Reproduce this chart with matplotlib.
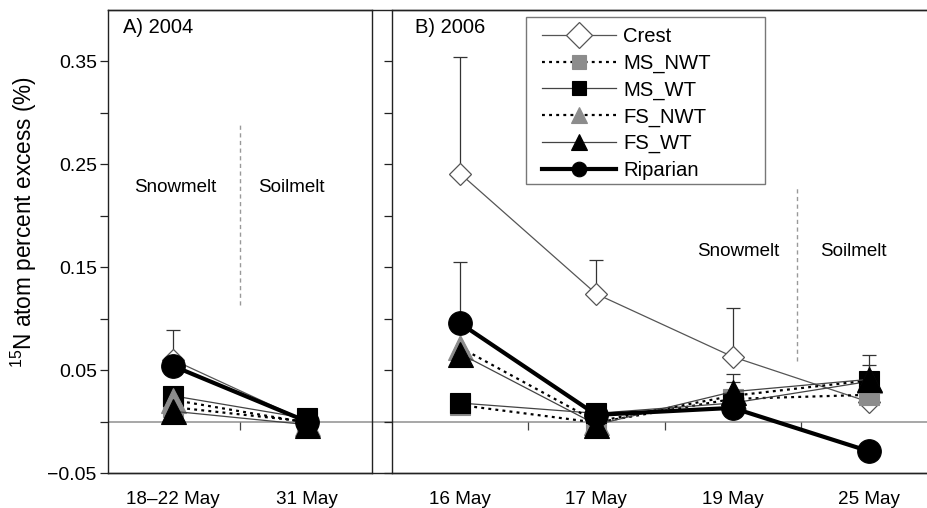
import numpy as np
import matplotlib
matplotlib.use("Agg")
import matplotlib.pyplot as plt
from matplotlib.patches import Rectangle

plt.rcParams['font.family'] = ['Liberation Sans', 'DejaVu Sans']
plt.rcParams['mathtext.fontset'] = 'custom'
plt.rcParams['mathtext.rm'] = 'Liberation Sans'

# ---------------- data ----------------
cats_a = ["18\u201322 May", "31 May"]
cats_b = ["16 May", "17 May", "19 May", "25 May"]
series = ["Crest", "MS_NWT", "MS_WT", "FS_NWT", "FS_WT", "Riparian"]

crest_a = [0.060, 0.000]
ms_nwt_a = [0.014, 0.000]
ms_wt_a = [0.025, 0.003]
fs_nwt_a = [0.021, -0.001]
fs_wt_a = [0.010, -0.003]
riparian_a = [0.054, 0.000]

crest_b = [0.241, 0.124, 0.063, 0.019]
ms_nwt_b = [0.016, -0.001, 0.022, 0.026]
ms_wt_b = [0.018, 0.008, 0.018, 0.039]
fs_nwt_b = [0.072, 0.000, 0.025, 0.040]
fs_wt_b = [0.066, -0.003, 0.029, 0.041]
riparian_b = [0.0955, 0.0065, 0.0133, -0.0288]

# upper error bars (nan = none shown)
crest_err_a = [0.029, np.nan]
crest_err_b = [0.113, 0.033, 0.047, np.nan]
ms_wt_err_b = [np.nan, np.nan, 0.020, 0.016]
fs_wt_err_b = [np.nan, np.nan, 0.017, 0.024]
riparian_err_b = [0.060, np.nan, np.nan, np.nan]

vals_a = [crest_a, ms_nwt_a, ms_wt_a, fs_nwt_a, fs_wt_a, riparian_a]
vals_b = [crest_b, ms_nwt_b, ms_wt_b, fs_nwt_b, fs_wt_b, riparian_b]
errs_a = {"Crest": crest_err_a}
errs_b = {"Crest": crest_err_b, "MS_WT": ms_wt_err_b, "FS_WT": fs_wt_err_b,
          "Riparian": riparian_err_b}

# ---------------- styles ----------------
grey = '#8c8c8c'
styles = {
    "Crest":    dict(color='#555555', lw=0.9, ls='-', marker='D', ms=11.5,
                     mfc='white', mec='#555555', mew=0.9),
    "MS_NWT":   dict(color='black', lw=1.6, ls=(0, (1.3, 1.9)), marker='s', ms=15,
                     mfc=grey, mec=grey, mew=0.8),
    "MS_WT":    dict(color='#444444', lw=0.9, ls='-', marker='s', ms=15,
                     mfc='black', mec='black', mew=0.8),
    "FS_NWT":   dict(color='black', lw=1.6, ls=(0, (1.3, 1.9)), marker='^', ms=18,
                     mfc=grey, mec=grey, mew=0.8),
    "FS_WT":    dict(color='#444444', lw=0.9, ls='-', marker='^', ms=18,
                     mfc='black', mec='black', mew=0.8),
    "Riparian": dict(color='black', lw=3.0, ls='-', marker='o', ms=17,
                     mfc='black', mec='black', mew=0.8),
}
legend_ms = {"Crest": 13, "MS_NWT": 9.5, "MS_WT": 9.5, "FS_NWT": 11,
             "FS_WT": 11, "Riparian": 10.5}

W, H = 927, 508
def rect(l, r, t, b):
    return [l / W, 1 - b / H, (r - l) / W, (b - t) / H]

fig = plt.figure(figsize=(W / 100, H / 100), dpi=100)
ylim = (-0.05, 0.40)
spine_c = '#222222'

# background frame: continuous top / bottom / zero line
bg = fig.add_axes(rect(108, 937, 10, 473), zorder=0)
bg.set_ylim(*ylim)
bg.set_xlim(0, 1)
bg.axhline(0, color='#a0a0a0', lw=1.3)
for s in ['left', 'right']:
    bg.spines[s].set_visible(False)
for s in ['top', 'bottom']:
    bg.spines[s].set_color(spine_c)
    bg.spines[s].set_linewidth(1.0)
bg.set_xticks([])
bg.set_yticks([])

axA = fig.add_axes(rect(108, 372, 10, 473), zorder=2)
axB = fig.add_axes(rect(392, 937, 10, 473), zorder=2)

yt = np.round(np.arange(-0.05, 0.351, 0.05), 2)
ylabels = []
for v in yt:
    if abs(round(v * 100)) % 10 == 5:
        ylabels.append(("%.2f" % v).replace('-', '\u2212'))
    else:
        ylabels.append('')

def draw_panel(ax, cats, vals, errs, show_labels):
    x = np.arange(len(cats))
    ax.set_facecolor('none')
    ax.set_ylim(*ylim)
    ax.set_xlim(-0.485, len(cats) - 1 + 0.485)
    for name, v in zip(series, vals):
        st = styles[name]
        if name in errs:
            e = np.array(errs[name], dtype=float)
            m = np.isfinite(e)
            ax.errorbar(x[m], np.array(v)[m], yerr=[np.zeros(m.sum()), e[m]],
                        fmt='none', ecolor='#333333', elinewidth=0.9,
                        capsize=5, capthick=0.9, zorder=1)
        ax.plot(x, v, label=name, zorder=3, **st)
    # small ticks on the zero line between categories
    mids = x[:-1] + 0.5
    ax.vlines(mids, -0.008, 0, color='#444444', lw=0.9, zorder=1)
    ax.set_xticks(x)
    ax.set_xticklabels(cats, fontsize=13.6)
    ax.tick_params(axis='x', length=0, pad=13)
    ax.set_yticks(yt)
    ax.set_yticklabels(ylabels if show_labels else [''] * len(yt), fontsize=14)
    ax.tick_params(axis='y', direction='out', length=6.1,
                   width=0.9, color=spine_c, pad=2)
    for s in ax.spines.values():
        s.set_color(spine_c)
        s.set_linewidth(1.0)

draw_panel(axA, cats_a, vals_a, errs_a, True)
draw_panel(axB, cats_b, vals_b, errs_b, False)
axB.set_xlim(-0.5, 3.5)
axB.spines['right'].set_visible(False)

# phase separators and labels
axA.plot([0.5, 0.5], [0.113, 0.289], color='#999999', lw=1.0, ls=(0, (3, 2.5)), zorder=1)
axA.text(0.02, 0.2275, "Snowmelt", ha='center', va='center', fontsize=13.5)
axA.text(0.88, 0.2275, "Soilmelt", ha='center', va='center', fontsize=13.5)
axB.plot([2.47, 2.47], [0.059, 0.228], color='#999999', lw=1.0, ls=(0, (3, 2.5)), zorder=1)
axB.text(2.04, 0.165, "Snowmelt", ha='center', va='center', fontsize=13.5)
axB.text(2.886, 0.165, "Soilmelt", ha='center', va='center', fontsize=13.5)

axA.text(0.057, 0.963, "A) 2004", transform=axA.transAxes, ha='left', va='center',
         fontsize=14.5)
axB.text(0.042, 0.963, "B) 2006", transform=axB.transAxes, ha='left', va='center',
         fontsize=14.5)

fig.text(24 / W, 1 - 222 / H, r"$^{\mathrm{15}}$N atom percent excess (%)",
         rotation=90, ha='center', va='center', fontsize=16.3)

# legend (frame drawn separately to match the wide box)
fig.add_artist(Rectangle((526 / W, 1 - 184 / H), (765 - 526) / W, (184 - 16.7) / H,
                         transform=fig.transFigure, facecolor='white',
                         edgecolor='#777777', lw=1.0, zorder=5))
handles, labels = axB.get_legend_handles_labels()
leg = fig.legend(handles, labels, loc='upper left',
                 bbox_to_anchor=(541.5 / W, 1 - 27 / H), bbox_transform=fig.transFigure,
                 borderaxespad=0, fontsize=14.6, handlelength=3.68, handletextpad=0.35,
                 labelspacing=0.375, borderpad=0, frameon=False)
leg.set_zorder(6)
for h, name in zip(leg.legend_handles, labels):
    h.set_markersize(legend_ms[name])

fig.savefig("out.png", dpi=100)
